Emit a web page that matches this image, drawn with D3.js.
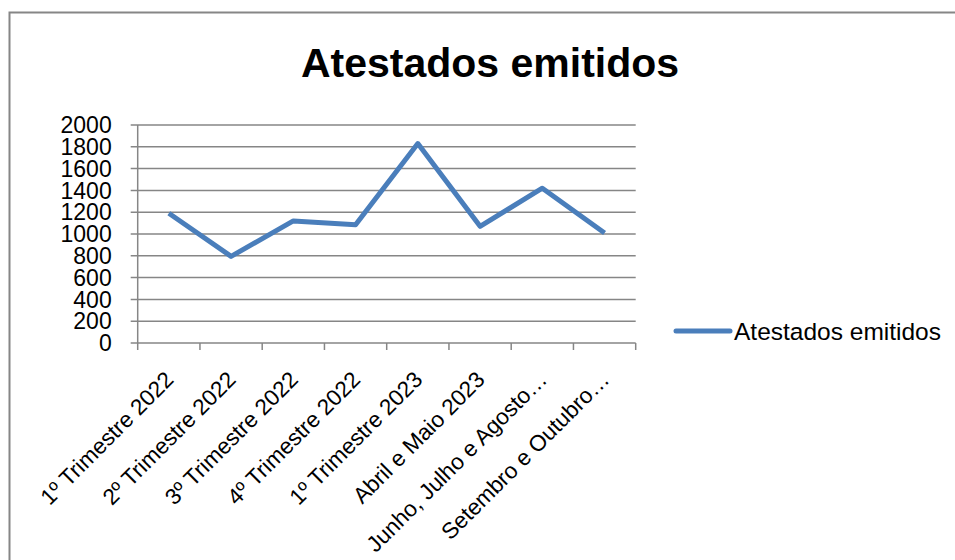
<!DOCTYPE html>
<html>
  <head>
    <script src="https://d3js.org/d3.v7.min.js"></script>
    <style>
      body { margin: 0; background: #fff; }
      text { font-family: "Liberation Sans", Arial, sans-serif; }
    </style>
  </head>
  <body>
    <script>

    const categories = [
      "1º Trimestre 2022", "2º Trimestre 2022", "3º Trimestre 2022", "4º Trimestre 2022",
      "1º Trimestre 2023", "Abril e Maio 2023", "Junho, Julho e Agosto…", "Setembro e Outubro…"
    ];
    const values = [1190, 795, 1120, 1085, 1830, 1070, 1420, 1010];
    const yTicks = [0, 200, 400, 600, 800, 1000, 1200, 1400, 1600, 1800, 2000];
    const seriesName = "Atestados emitidos";

    const width = 955, height = 560;
    const plotLeft = 137.7, plotRight = 635.7, plotTop = 125, plotBottom = 343;
    const grey = "#868686";
    const blue = "#4a7ebb";

    const svg = d3.select("body").append("svg")
        .attr("width", width)
        .attr("height", height);

    // outer chart border
    svg.append("path")
        .attr("d", `M9.5,${height + 5} V12.5 H${width + 5}`)
        .attr("fill", "none")
        .attr("stroke", grey)
        .attr("stroke-width", 2);

    svg.append("text")
        .attr("x", 490)
        .attr("y", 77)
        .attr("text-anchor", "middle")
        .attr("font-weight", "bold")
        .attr("font-size", 41)
        .text(seriesName);

    const x = d3.scaleBand().domain(categories).range([plotLeft, plotRight]);
    const y = d3.scaleLinear().domain([0, 2000]).range([plotBottom, plotTop]);

    // gridlines
    svg.append("g")
      .selectAll("line")
      .data(yTicks)
      .join("line")
        .attr("x1", plotLeft - 7)
        .attr("x2", plotRight)
        .attr("y1", d => y(d))
        .attr("y2", d => y(d))
        .attr("stroke", grey)
        .attr("stroke-width", 1.5);

    // y axis line
    svg.append("line")
        .attr("x1", plotLeft).attr("x2", plotLeft)
        .attr("y1", plotTop).attr("y2", plotBottom)
        .attr("stroke", grey).attr("stroke-width", 1.5);

    // x ticks at band edges
    const edges = categories.map(c => x(c)).concat([plotRight]);
    svg.append("g")
      .selectAll("line")
      .data(edges)
      .join("line")
        .attr("x1", d => d).attr("x2", d => d)
        .attr("y1", plotBottom).attr("y2", plotBottom + 7)
        .attr("stroke", grey).attr("stroke-width", 1.5);

    svg.append("g")
        .attr("font-size", 23)
        .attr("text-anchor", "end")
      .selectAll("text")
      .data(yTicks)
      .join("text")
        .attr("x", plotLeft - 26)
        .attr("y", d => y(d))
        .attr("dy", "0.36em")
        .text(d => d);

    svg.append("g")
        .attr("font-size", 22.5)
        .attr("text-anchor", "end")
      .selectAll("text")
      .data(categories)
      .join("text")
        .attr("transform", d => `translate(${x(d) + x.bandwidth() / 2 + 6},${plotBottom + 38}) rotate(-45)`)
        .text(d => d);

    const line = d3.line()
        .x((d, i) => x(categories[i]) + x.bandwidth() / 2)
        .y(d => y(d));

    svg.append("path")
        .datum(values)
        .attr("d", line)
        .attr("fill", "none")
        .attr("stroke", blue)
        .attr("stroke-width", 5)
        .attr("stroke-linejoin", "round");

    // legend
    const lg = svg.append("g").attr("transform", "translate(676,331)");
    lg.append("line")
        .attr("x1", 0).attr("x2", 54)
        .attr("stroke", blue).attr("stroke-width", 5)
        .attr("stroke-linecap", "round");
    lg.append("text")
        .attr("x", 58)
        .attr("dy", "0.36em")
        .attr("font-size", 24.5)
        .text(seriesName);

    </script>
  </body>
</html>
